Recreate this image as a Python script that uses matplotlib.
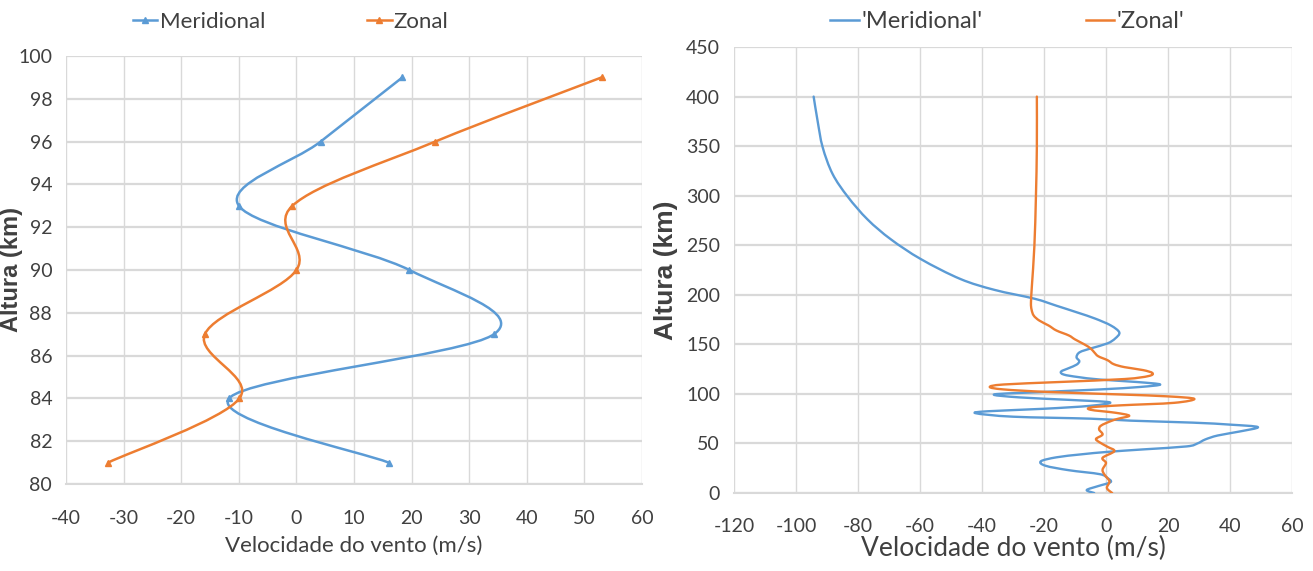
import numpy as np
import matplotlib.pyplot as plt
from matplotlib.path import Path
from matplotlib.patches import PathPatch
from matplotlib.lines import Line2D

plt.rcParams['font.family'] = ['Lato', 'DejaVu Sans']
plt.rcParams['axes.unicode_minus'] = False

alt_left = [81, 84, 87, 90, 93, 96, 99]
mer_left = [16.0, -11.7, 34.3, 19.6, -10.0, 4.2, 18.4]
zon_left = [-32.7, -9.9, -15.9, 0.0, -0.7, 24.1, 53.0]

# right chart: 0-400 km profiles (estimated from the curves)
alt_mer = [0, 3, 7, 11, 15, 19, 23, 27.5, 32, 36, 39, 41.5, 44, 47, 50, 54, 58, 62,
           66.5, 69, 71, 73, 75, 77, 80.5, 82.5, 85, 88, 91.5, 94, 96.5, 99.5, 102,
           104.5, 107, 109.5, 112, 114.5, 117, 119.5, 122.5, 126, 129.5, 133, 137,
           142, 146, 151, 156, 162, 169, 176, 182, 189, 196, 205, 216, 236, 256,
           276, 299, 322, 349, 375, 400]
mer_right = [-3.8, -6.2, -2.5, 1.5, 0.5, -2.0, -12.0, -19.5, -21.0, -16.0, -8.0, 0.5,
             12.0, 26.0, 29.5, 32.0, 36.0, 43.0, 49.0, 40.0, 28.0, 8.0, -5.0, -30.0,
             -42.0, -38.0, -20.0, -5.0, 1.2, -12.0, -28.0, -36.0, -20.0, -2.0, 11.0,
             17.5, 10.0, -2.0, -9.0, -13.6, -14.5, -12.0, -9.5, -8.6, -9.5, -8.5,
             -4.8, 0.5, 3.0, 4.3, 1.6, -3.5, -9.1, -16.0, -23.0, -36.0, -47.0, -59.7,
             -69.4, -76.9, -83.3, -88.2, -91.4, -93.0, -94.3]

alt_zon = [0, 5, 11.8, 18.6, 23.6, 30.4, 35.5, 42.2, 46.6, 51.4, 54.7, 59, 64, 68,
           72.6, 75, 78, 81, 84, 86.5, 88.5, 91, 95, 97.5, 99.5, 102, 104.5, 107,
           109.5, 112, 115, 118, 121, 124, 127, 130, 134, 138, 142, 146, 150, 155,
           159, 164, 169, 174, 179, 185, 192, 209, 249, 299, 349, 400]
zon_right = [2.0, 0.3, 1.1, -0.5, -1.1, 0.0, -1.1, 2.7, 0.5, -2.2, -3.2, -1.1, -2.2,
             -1.6, 1.6, 4.0, 7.5, 3.0, -5.0, -4.5, 5.0, 22.0, 28.5, 20.0, 4.0, -19.0,
             -33.0, -37.5, -33.0, -15.0, 6.0, 13.7, 15.0, 12.0, 6.0, 2.5, 0.5, -2.5,
             -3.8, -5.0, -7.0, -10.0, -12.0, -16.0, -18.5, -21.5, -23.3, -24.0, -24.2,
             -23.9, -23.1, -22.6, -22.3, -22.3]

blue = '#5b9bd5'
orange = '#ed7d31'
grid_c = '#d9d9d9'
txt_c = '#404040'


def smooth_path(xs, ys):
    # Excel-like smoothed line: cubic bezier through the points
    pts = np.column_stack([xs, ys]).astype(float)
    n = len(pts)
    verts = [pts[0]]
    codes = [Path.MOVETO]
    for i in range(n - 1):
        p0 = pts[i - 1] if i > 0 else pts[i]
        p1 = pts[i]
        p2 = pts[i + 1]
        p3 = pts[i + 2] if i + 2 < n else pts[i + 1]
        verts += [p1 + (p2 - p0) / 6, p2 - (p3 - p1) / 6, p2]
        codes += [Path.CURVE4] * 3
    return Path(verts, codes)


def draw_curve(ax, xs, ys, color, lw):
    ax.add_patch(PathPatch(smooth_path(xs, ys), fill=False, edgecolor=color,
                           lw=lw, capstyle='round', joinstyle='round', zorder=3))


def style_axes(ax, xpad, ypad):
    for s in ['top', 'right', 'left']:
        ax.spines[s].set_visible(False)
    ax.spines['bottom'].set_color(grid_c)
    ax.spines['bottom'].set_linewidth(1.5)
    ax.tick_params(length=0, colors=txt_c, labelsize=14)
    ax.tick_params(axis='x', pad=xpad)
    ax.tick_params(axis='y', pad=ypad)
    ax.xaxis.grid(True, color=grid_c, lw=1.0)
    ax.yaxis.grid(True, color=grid_c, lw=1.6)
    ax.set_axisbelow(True)


fig = plt.figure(figsize=(13.13, 5.71), dpi=100)

# ---- left panel
ax1 = fig.add_axes([0.0503, 0.1524, 0.4387, 0.7496])
draw_curve(ax1, mer_left, alt_left, blue, 1.8)
draw_curve(ax1, zon_left, alt_left, orange, 1.8)
ax1.plot(mer_left, alt_left, ls='none', marker='^', ms=4, color=blue, zorder=4)
ax1.plot(zon_left, alt_left, ls='none', marker='^', ms=4, color=orange, zorder=4)
ax1.set_xlim(-40, 60)
ax1.set_ylim(80, 100)
ax1.set_xticks(np.arange(-40, 61, 10))
ax1.set_yticks(np.arange(80, 101, 2))
style_axes(ax1, 19, 10)
ax1.set_xlabel('Velocidade do vento (m/s)', fontsize=16, color=txt_c, labelpad=6)
ax1.set_ylabel('Altura (km)', fontsize=17, fontweight='bold', color=txt_c,
               family=['Liberation Sans', 'DejaVu Sans'])
ax1.yaxis.set_label_coords(-0.074, 0.5)
h1 = [Line2D([], [], color=blue, lw=1.8, marker='^', ms=4),
      Line2D([], [], color=orange, lw=1.8, marker='^', ms=4)]
ax1.legend(h1, ['Meridional', 'Zonal'], ncol=2, frameon=False, fontsize=16,
           loc='lower center', bbox_to_anchor=(0.39, 1.01), handlelength=1.1,
           handletextpad=0.1, columnspacing=4.6, labelcolor=txt_c)

# ---- right panel
ax2 = fig.add_axes([0.559, 0.1366, 0.425, 0.781])
draw_curve(ax2, mer_right, alt_mer, blue, 1.7)
draw_curve(ax2, zon_right, alt_zon, orange, 1.7)
ax2.set_xlim(-120, 60)
ax2.set_ylim(0, 450)
ax2.set_xticks(np.arange(-120, 61, 20))
ax2.set_yticks(np.arange(0, 451, 50))
style_axes(ax2, 18, 10)
ax2.set_xlabel('Velocidade do vento (m/s)', fontsize=19, color=txt_c, labelpad=1)
ax2.set_ylabel('Altura (km)', fontsize=19, fontweight='bold', color=txt_c,
               family=['Liberation Sans', 'DejaVu Sans'])
ax2.yaxis.set_label_coords(-0.1, 0.5)
h2 = [Line2D([], [], color=blue, lw=1.8), Line2D([], [], color=orange, lw=1.8)]
ax2.legend(h2, ["'Meridional'", "'Zonal'"], ncol=2, frameon=False, fontsize=17,
           loc='lower center', bbox_to_anchor=(0.49, 0.985), handlelength=1.2,
           handletextpad=0.1, columnspacing=4.4, labelcolor=txt_c)

fig.savefig('out.png', dpi=100)
